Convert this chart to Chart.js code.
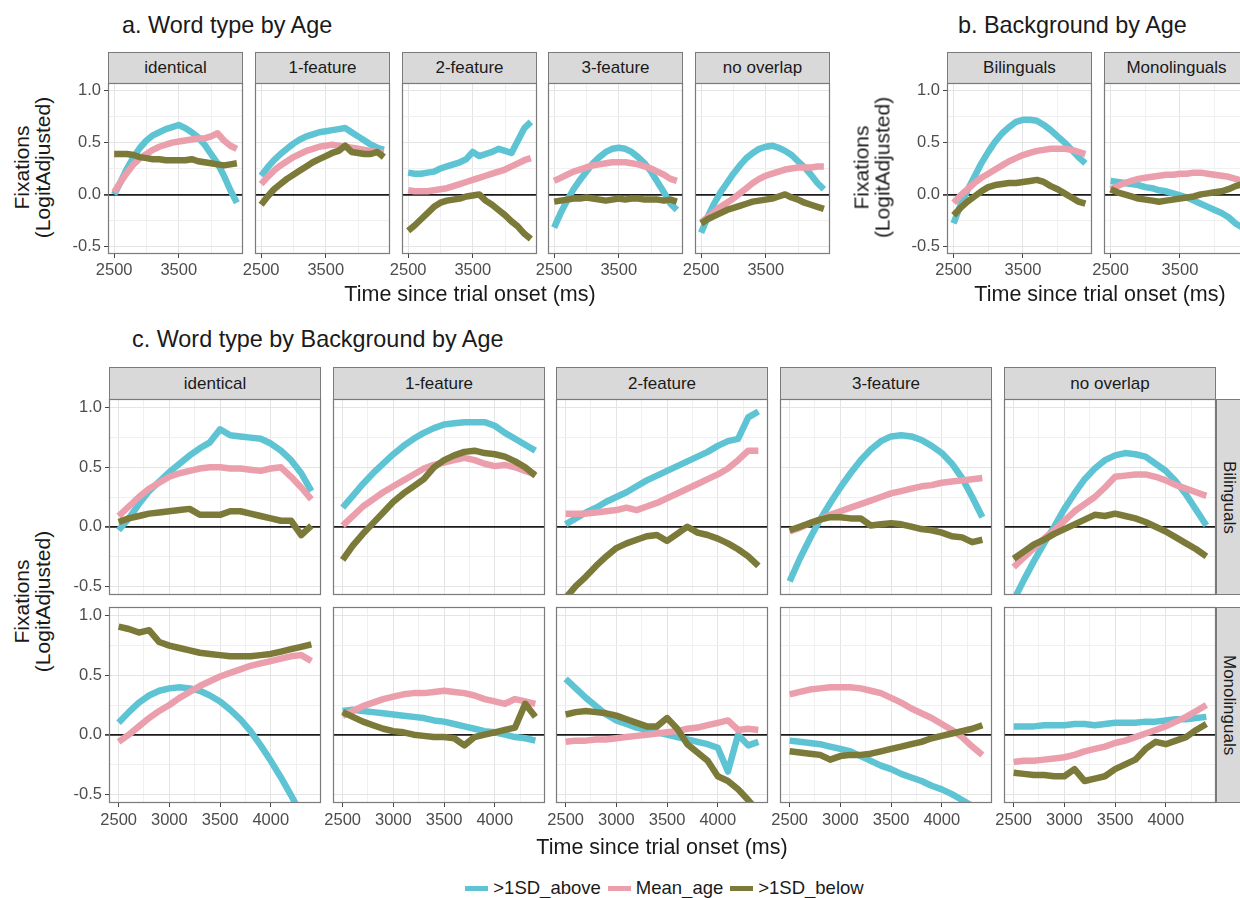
<!DOCTYPE html>
<html>
<head>
<meta charset="utf-8">
<script src="https://cdn.jsdelivr.net/npm/chart.js@4.4.0/dist/chart.umd.min.js"></script>
<style>
  body { margin: 0; width: 1240px; height: 898px; overflow: hidden; background: #fff; position: relative;
         font-family: "Liberation Sans", Arial, sans-serif; }
  canvas { position: absolute; }
  .strip { position: absolute; box-sizing: border-box; background: #d9d9d9; border: 1px solid #7a7a7a;
           display: flex; align-items: center; justify-content: center; font-size: 17px; color: #1a1a1a; }
  .vstrip { writing-mode: vertical-rl; }
  .title { position: absolute; font-size: 23.4px; line-height: 1; color: #1a1a1a; white-space: nowrap; }
  .xtitle { position: absolute; font-size: 21.5px; line-height: 1; color: #1a1a1a; white-space: nowrap; transform: translateX(-50%); }
  .ytitle { position: absolute; width: 220px; height: 41px; font-size: 21px; line-height: 20.5px; text-align: center;
            color: #1a1a1a; transform: rotate(-90deg); }
  #legend { position: absolute; left: 0; width: 1240px; top: 877px; display: flex; justify-content: center; align-items: center;
            font-size: 18.5px; color: #1a1a1a; padding-left: 96px; box-sizing: border-box; }
  #legend .key { display: inline-block; width: 23px; height: 5px; margin-right: 5px; }
  #legend .lab { margin-right: 7px; }
</style>
</head>
<body>
<script>
// shared axes
const times = [2500, 2600, 2700, 2800, 2900, 3000, 3100, 3200, 3300, 3400,
               3500, 3600, 3700, 3800, 3900, 4000, 4100, 4200, 4300, 4400];
const groups = [">1SD_above", "Mean_age", ">1SD_below"];
const groupColors = ["#5ec4d4", "#eb9fac", "#7c7a38"];
const wordTypes = ["identical", "1-feature", "2-feature", "3-feature", "no overlap"];
const backgrounds = ["Bilinguals", "Monolinguals"];
const xTicksAB = [2500, 3500];
const xMinorAB = [3000, 4000];
const xTicksC = [2500, 3000, 3500, 4000];
const xMinorC = [2750, 3250, 3750, 4250];
const yTicks = [-0.5, 0, 0.5, 1.0];
const yMinor = [-0.25, 0.25, 0.75];

// a. Word type by Age  (rows: above, mean, below)
const aIdentical = [
  [0.0, 0.12, 0.25, 0.36, 0.45, 0.52, 0.57, 0.6, 0.63, 0.65, 0.67, 0.64, 0.6, 0.55, 0.48, 0.39, 0.3, 0.18, 0.04, -0.08],
  [0.02, 0.12, 0.21, 0.29, 0.35, 0.39, 0.43, 0.46, 0.48, 0.5, 0.51, 0.52, 0.53, 0.54, 0.54, 0.56, 0.59, 0.52, 0.47, 0.44],
  [0.39, 0.39, 0.39, 0.38, 0.36, 0.35, 0.34, 0.34, 0.33, 0.33, 0.33, 0.33, 0.34, 0.32, 0.31, 0.3, 0.29, 0.28, 0.29, 0.3]];
const aOneFeature = [
  [0.18, 0.26, 0.33, 0.39, 0.44, 0.49, 0.53, 0.56, 0.58, 0.6, 0.61, 0.62, 0.63, 0.64, 0.6, 0.56, 0.52, 0.48, 0.45, 0.43],
  [0.1, 0.17, 0.23, 0.28, 0.32, 0.36, 0.39, 0.42, 0.44, 0.46, 0.47, 0.48, 0.47, 0.46, 0.45, 0.44, 0.43, 0.42, 0.41, 0.4],
  [-0.1, -0.02, 0.05, 0.1, 0.15, 0.19, 0.23, 0.27, 0.31, 0.34, 0.37, 0.4, 0.42, 0.47, 0.41, 0.4, 0.39, 0.39, 0.41, 0.36]];
const aTwoFeature = [
  [0.21, 0.2, 0.2, 0.21, 0.22, 0.25, 0.27, 0.29, 0.31, 0.34, 0.41, 0.37, 0.39, 0.41, 0.44, 0.42, 0.4, 0.52, 0.64, 0.7],
  [0.04, 0.03, 0.03, 0.03, 0.04, 0.05, 0.06, 0.08, 0.1, 0.12, 0.14, 0.16, 0.18, 0.2, 0.22, 0.24, 0.27, 0.3, 0.33, 0.35],
  [-0.35, -0.3, -0.24, -0.18, -0.12, -0.08, -0.06, -0.05, -0.04, -0.02, -0.01, 0.0, -0.06, -0.1, -0.15, -0.2, -0.26, -0.31, -0.38, -0.43]];
const aThreeFeature = [
  [-0.32, -0.18, -0.06, 0.05, 0.14, 0.22, 0.3, 0.36, 0.41, 0.44, 0.45, 0.44, 0.41, 0.36, 0.3, 0.22, 0.12, 0.02, -0.09, -0.15],
  [0.13, 0.16, 0.19, 0.22, 0.24, 0.26, 0.28, 0.29, 0.3, 0.31, 0.31, 0.31, 0.3, 0.29, 0.27, 0.25, 0.22, 0.19, 0.15, 0.13],
  [-0.07, -0.06, -0.05, -0.04, -0.04, -0.03, -0.04, -0.05, -0.06, -0.05, -0.04, -0.05, -0.04, -0.04, -0.05, -0.05, -0.05, -0.06, -0.05, -0.07]];
const aNoOverlap = [
  [-0.37, -0.22, -0.09, 0.02, 0.11, 0.2, 0.28, 0.35, 0.4, 0.44, 0.46, 0.47, 0.45, 0.42, 0.38, 0.32, 0.26, 0.19, 0.11, 0.05],
  [-0.27, -0.22, -0.17, -0.12, -0.08, -0.04, 0.01, 0.06, 0.11, 0.15, 0.18, 0.2, 0.22, 0.24, 0.25, 0.26, 0.26, 0.26, 0.27, 0.27],
  [-0.28, -0.24, -0.21, -0.18, -0.15, -0.13, -0.11, -0.09, -0.07, -0.06, -0.05, -0.04, -0.02, 0.0, -0.03, -0.05, -0.08, -0.1, -0.12, -0.14]];

// b. Background by Age
const bBilinguals = [
  [-0.28, -0.1, 0.04, 0.17, 0.3, 0.41, 0.51, 0.59, 0.65, 0.7, 0.72, 0.72, 0.71, 0.67, 0.62, 0.56, 0.5, 0.43, 0.36, 0.3],
  [-0.08, -0.01, 0.05, 0.11, 0.16, 0.2, 0.24, 0.28, 0.32, 0.35, 0.38, 0.4, 0.42, 0.43, 0.44, 0.44, 0.44, 0.43, 0.41, 0.39],
  [-0.2, -0.13, -0.07, -0.02, 0.03, 0.07, 0.09, 0.1, 0.11, 0.11, 0.12, 0.13, 0.14, 0.12, 0.08, 0.05, 0.01, -0.03, -0.07, -0.09]];
const bMonolinguals = [
  [0.13, 0.12, 0.11, 0.1, 0.09, 0.07, 0.06, 0.04, 0.03, 0.01, -0.01, -0.03, -0.06, -0.09, -0.12, -0.15, -0.18, -0.22, -0.28, -0.32],
  [0.05, 0.08, 0.11, 0.13, 0.15, 0.16, 0.17, 0.18, 0.19, 0.19, 0.2, 0.2, 0.21, 0.21, 0.2, 0.19, 0.18, 0.17, 0.15, 0.13],
  [0.05, 0.02, 0.0, -0.02, -0.04, -0.05, -0.06, -0.07, -0.06, -0.05, -0.04, -0.03, -0.02, 0.0, 0.01, 0.02, 0.03, 0.05, 0.08, 0.1]];

// c. Word type by Background by Age
const cBiIdentical = [
  [-0.03, 0.07, 0.19, 0.3, 0.38, 0.46, 0.53, 0.6, 0.66, 0.71, 0.82, 0.77, 0.76, 0.75, 0.74, 0.7, 0.64, 0.56, 0.45, 0.3],
  [0.09, 0.17, 0.25, 0.32, 0.37, 0.42, 0.45, 0.47, 0.49, 0.5, 0.5, 0.49, 0.49, 0.48, 0.47, 0.49, 0.5, 0.42, 0.33, 0.23],
  [0.04, 0.07, 0.09, 0.11, 0.12, 0.13, 0.14, 0.15, 0.1, 0.1, 0.1, 0.13, 0.13, 0.11, 0.09, 0.07, 0.05, 0.05, -0.07, 0.01]];
const cMoIdentical = [
  [0.1, 0.19, 0.27, 0.33, 0.37, 0.39, 0.4, 0.39, 0.37, 0.33, 0.28, 0.21, 0.13, 0.03, -0.09, -0.22, -0.36, -0.51, -0.67, -0.84],
  [-0.06, 0.0, 0.07, 0.14, 0.2, 0.25, 0.31, 0.36, 0.41, 0.45, 0.49, 0.52, 0.55, 0.58, 0.6, 0.62, 0.64, 0.66, 0.67, 0.62],
  [0.91, 0.89, 0.86, 0.88, 0.78, 0.75, 0.73, 0.71, 0.69, 0.68, 0.67, 0.66, 0.66, 0.66, 0.67, 0.68, 0.7, 0.72, 0.74, 0.76]];
const cBiOneFeature = [
  [0.16, 0.26, 0.36, 0.45, 0.53, 0.61, 0.68, 0.74, 0.79, 0.83, 0.86, 0.87, 0.88, 0.88, 0.88, 0.85, 0.79, 0.74, 0.69, 0.64],
  [0.01, 0.09, 0.17, 0.23, 0.29, 0.34, 0.39, 0.44, 0.49, 0.52, 0.54, 0.56, 0.58, 0.56, 0.53, 0.51, 0.52, 0.5, 0.47, 0.44],
  [-0.28, -0.16, -0.06, 0.03, 0.12, 0.21, 0.28, 0.34, 0.4, 0.5, 0.56, 0.6, 0.63, 0.64, 0.62, 0.61, 0.59, 0.55, 0.5, 0.43]];
const cMoOneFeature = [
  [0.2, 0.21, 0.2, 0.19, 0.18, 0.17, 0.16, 0.15, 0.14, 0.12, 0.11, 0.09, 0.07, 0.05, 0.03, 0.02, 0.0, -0.02, -0.03, -0.05],
  [0.16, 0.2, 0.24, 0.27, 0.3, 0.32, 0.34, 0.35, 0.35, 0.36, 0.37, 0.36, 0.35, 0.33, 0.3, 0.28, 0.26, 0.3, 0.28, 0.26],
  [0.19, 0.15, 0.11, 0.08, 0.05, 0.03, 0.02, 0.0, -0.01, -0.02, -0.02, -0.03, -0.09, -0.02, 0.0, 0.02, 0.04, 0.06, 0.26, 0.15]];
const cBiTwoFeature = [
  [0.02, 0.07, 0.12, 0.16, 0.21, 0.25, 0.29, 0.34, 0.39, 0.43, 0.47, 0.51, 0.55, 0.59, 0.63, 0.68, 0.72, 0.74, 0.92, 0.97],
  [0.11, 0.11, 0.11, 0.12, 0.13, 0.14, 0.16, 0.14, 0.17, 0.2, 0.24, 0.28, 0.32, 0.36, 0.4, 0.44, 0.49, 0.56, 0.64, 0.64],
  [-0.6, -0.5, -0.42, -0.33, -0.25, -0.18, -0.14, -0.11, -0.08, -0.07, -0.12, -0.06, 0.0, -0.05, -0.07, -0.1, -0.14, -0.19, -0.25, -0.33]];
const cMoTwoFeature = [
  [0.47, 0.39, 0.31, 0.24, 0.17, 0.12, 0.09, 0.06, 0.04, 0.02, 0.0, -0.02, -0.04, -0.06, -0.08, -0.11, -0.31, 0.0, -0.09, -0.06],
  [-0.06, -0.05, -0.05, -0.04, -0.04, -0.03, -0.02, -0.01, 0.0, 0.01, 0.02, 0.03, 0.05, 0.06, 0.08, 0.1, 0.12, 0.04, 0.05, 0.04],
  [0.17, 0.19, 0.2, 0.19, 0.18, 0.16, 0.13, 0.1, 0.07, 0.07, 0.14, 0.05, -0.08, -0.15, -0.22, -0.35, -0.39, -0.46, -0.55, -0.65]];
const cBiThreeFeature = [
  [-0.46, -0.27, -0.1, 0.06, 0.2, 0.33, 0.45, 0.56, 0.65, 0.72, 0.76, 0.77, 0.76, 0.73, 0.68, 0.62, 0.53, 0.41, 0.25, 0.08],
  [-0.04, -0.01, 0.03, 0.06, 0.1, 0.13, 0.16, 0.19, 0.22, 0.25, 0.28, 0.3, 0.32, 0.34, 0.35, 0.37, 0.38, 0.39, 0.4, 0.41],
  [-0.03, 0.0, 0.03, 0.06, 0.08, 0.08, 0.07, 0.07, 0.01, 0.02, 0.03, 0.02, 0.0, -0.02, -0.03, -0.05, -0.08, -0.09, -0.13, -0.11]];
const cMoThreeFeature = [
  [-0.05, -0.06, -0.07, -0.08, -0.1, -0.12, -0.14, -0.18, -0.22, -0.26, -0.29, -0.33, -0.36, -0.39, -0.43, -0.46, -0.5, -0.55, -0.6, -0.65],
  [0.34, 0.36, 0.38, 0.39, 0.4, 0.4, 0.4, 0.39, 0.37, 0.35, 0.31, 0.27, 0.22, 0.18, 0.14, 0.09, 0.04, -0.02, -0.1, -0.17],
  [-0.14, -0.15, -0.16, -0.17, -0.21, -0.18, -0.17, -0.17, -0.16, -0.14, -0.12, -0.1, -0.08, -0.06, -0.03, -0.01, 0.01, 0.03, 0.05, 0.08]];
const cBiNoOverlap = [
  [-0.62, -0.45, -0.29, -0.14, 0.0, 0.15, 0.28, 0.4, 0.49, 0.56, 0.6, 0.62, 0.61, 0.59, 0.53, 0.47, 0.38, 0.27, 0.14, 0.01],
  [-0.34, -0.26, -0.18, -0.1, -0.03, 0.05, 0.13, 0.19, 0.25, 0.33, 0.42, 0.43, 0.44, 0.44, 0.42, 0.39, 0.35, 0.32, 0.29, 0.26],
  [-0.27, -0.21, -0.15, -0.11, -0.06, -0.02, 0.02, 0.06, 0.1, 0.09, 0.11, 0.09, 0.07, 0.04, 0.0, -0.04, -0.09, -0.14, -0.19, -0.25]];
const cMoNoOverlap = [
  [0.07, 0.07, 0.07, 0.08, 0.08, 0.08, 0.09, 0.09, 0.08, 0.09, 0.1, 0.1, 0.1, 0.11, 0.11, 0.12, 0.13, 0.13, 0.14, 0.15],
  [-0.23, -0.22, -0.22, -0.21, -0.2, -0.19, -0.17, -0.14, -0.12, -0.1, -0.07, -0.05, -0.02, 0.01, 0.04, 0.07, 0.11, 0.15, 0.2, 0.25],
  [-0.32, -0.33, -0.34, -0.34, -0.35, -0.35, -0.29, -0.39, -0.37, -0.35, -0.29, -0.25, -0.21, -0.12, -0.06, -0.08, -0.05, -0.02, 0.04, 0.09]];

Chart.defaults.font.family = '"Liberation Sans", Arial, sans-serif';
Chart.defaults.color = "#4d4d4d";

const M = 50; // canvas margin round each plot area

// ggplot-like panel border, drawn over the lines
const panelBorder = {
  id: "panelBorder",
  afterDatasetsDraw(chart) {
    const a = chart.chartArea, c = chart.ctx;
    c.save();
    c.strokeStyle = "#7a7a7a";
    c.lineWidth = 1.2;
    c.strokeRect(a.left + 0.5, a.top + 0.5, a.width - 1, a.height - 1);
    c.restore();
  }
};

function addDiv(cls, text, css) {
  const d = document.createElement("div");
  d.className = cls;
  d.innerHTML = text;
  Object.assign(d.style, css);
  document.body.appendChild(d);
  return d;
}

function panel(x, y, w, h, lines, showX, showY, xMajor, xMinor, labelPad) {
  const cv = document.createElement("canvas");
  cv.width = w + 2 * M;
  cv.height = h + 2 * M;
  cv.style.left = (x - M) + "px";
  cv.style.top = (y - M) + "px";
  document.body.appendChild(cv);
  const xAll = xMajor.concat(xMinor).sort((p, q) => p - q);
  const yAll = yTicks.concat(yMinor).sort((p, q) => p - q);
  new Chart(cv, {
    type: "line",
    data: {
      datasets: groups.map((g, i) => ({
        label: g,
        data: times.map((t, k) => ({ x: t, y: lines[i][k] })),
        borderColor: groupColors[i],
        borderWidth: 6.5,
        borderCapStyle: "butt",
        borderJoinStyle: "round",
        pointRadius: 0,
        fill: false,
        order: 3 - i
      }))
    },
    options: {
      responsive: false,
      animation: false,
      events: [],
      layout: { padding: { left: showY ? M - 45 : M, right: M, top: M, bottom: showX ? M - 30 : M } },
      plugins: { legend: { display: false }, tooltip: { enabled: false } },
      scales: {
        x: {
          type: "linear", min: 2405, max: 4495,
          afterBuildTicks: s => { s.ticks = xAll.map(v => ({ value: v })); },
          afterFit: s => { s.height = showX ? 30 : 0; },
          border: { display: false },
          grid: {
            color: c => xMajor.includes(c.tick.value) ? "#e4e4e4" : "#f0f0f0",
            lineWidth: 1,
            drawTicks: showX,
            tickLength: 4,
            tickColor: c => xMajor.includes(c.tick.value) ? "#444" : "rgba(0,0,0,0)"
          },
          ticks: {
            display: showX, autoSkip: false, maxRotation: 0, padding: labelPad,
            color: "#4d4d4d", font: { size: 16.5 },
            callback: v => xMajor.includes(v) ? String(v) : ""
          }
        },
        y: {
          min: -0.575, max: 1.075,
          afterBuildTicks: s => { s.ticks = yAll.map(v => ({ value: v })); },
          afterFit: s => { s.width = showY ? 45 : 0; },
          border: { display: false },
          grid: {
            color: c => c.tick.value === 0 ? "#1a1a1a" : (yTicks.includes(c.tick.value) ? "#e4e4e4" : "#f0f0f0"),
            lineWidth: c => c.tick.value === 0 ? 1.8 : 1,
            drawTicks: showY,
            tickLength: 4,
            tickColor: c => yTicks.includes(c.tick.value) ? "#444" : "rgba(0,0,0,0)"
          },
          ticks: {
            display: showY, autoSkip: false, padding: 3,
            color: "#4d4d4d", font: { size: 16.5 },
            callback: v => yTicks.includes(v) ? v.toFixed(1) : ""
          }
        }
      }
    },
    plugins: [panelBorder]
  });
}

function yTitle(cx, cy) {
  addDiv("ytitle", "Fixations<br>(LogitAdjusted)", { left: (cx - 110) + "px", top: (cy - 20.5) + "px" });
}

// ---- a. Word type by Age ----
const aLeft = [108, 255, 402, 548, 695];
const aSets = [aIdentical, aOneFeature, aTwoFeature, aThreeFeature, aNoOverlap];
addDiv("title", "a. Word type by Age", { left: "122px", top: "14px" });
aSets.forEach((s, i) => {
  addDiv("strip", wordTypes[i], { left: aLeft[i] + "px", top: "52px", width: "135px", height: "32px" });
  panel(aLeft[i], 83, 135, 171, s, true, i === 0, xTicksAB, xMinorAB, 3);
});
addDiv("xtitle", "Time since trial onset (ms)", { left: "470px", top: "284px" });
yTitle(32, 167);

// ---- b. Background by Age ----
const bLeft = [947, 1104];
const bSets = [bBilinguals, bMonolinguals];
addDiv("title", "b. Background by Age", { left: "958px", top: "14px" });
bSets.forEach((s, i) => {
  addDiv("strip", backgrounds[i], { left: bLeft[i] + "px", top: "52px", width: "145px", height: "32px" });
  panel(bLeft[i], 83, 145, 171, s, true, i === 0, xTicksAB, xMinorAB, 3);
});
addDiv("xtitle", "Time since trial onset (ms)", { left: "1100px", top: "284px" });
yTitle(872, 167);

// ---- c. Word type by Background by Age ----
const cLeft = [109, 333, 556, 780, 1004];
const cTop = [399, 607];
const cSets = [
  [cBiIdentical, cBiOneFeature, cBiTwoFeature, cBiThreeFeature, cBiNoOverlap],
  [cMoIdentical, cMoOneFeature, cMoTwoFeature, cMoThreeFeature, cMoNoOverlap]
];
addDiv("title", "c. Word type by Background by Age", { left: "132px", top: "328px" });
wordTypes.forEach((wt, i) => {
  addDiv("strip", wt, { left: cLeft[i] + "px", top: "367px", width: "212px", height: "33px" });
});
backgrounds.forEach((bg, r) => {
  addDiv("strip vstrip", bg, { left: "1216px", top: cTop[r] + "px", width: "26px", height: "196px" });
  cSets[r].forEach((s, i) => {
    panel(cLeft[i], cTop[r], 212, 196, s, r === 1, i === 0, xTicksC, xMinorC, 4);
  });
});
addDiv("xtitle", "Time since trial onset (ms)", { left: "662px", top: "837px" });
yTitle(32, 601);

// ---- legend ----
const legend = addDiv("", "", {});
legend.id = "legend";
groups.forEach((g, i) => {
  const k = document.createElement("span");
  k.className = "key";
  k.style.background = groupColors[i];
  const t = document.createElement("span");
  t.className = "lab";
  t.textContent = g;
  legend.appendChild(k);
  legend.appendChild(t);
});
</script>
</body>
</html>
